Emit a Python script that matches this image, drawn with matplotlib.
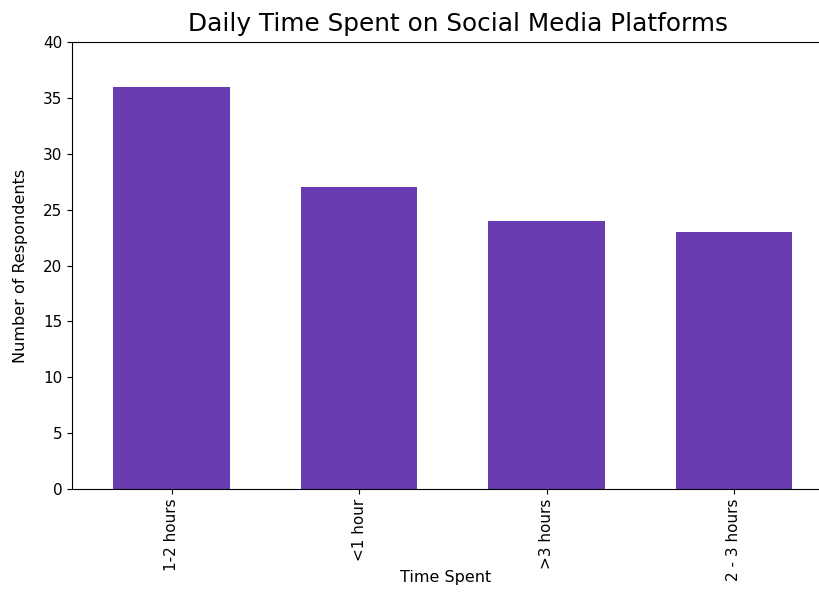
import matplotlib
matplotlib.use('Agg')
import matplotlib.pyplot as plt

categories = ['1-2 hours', '<1 hour', '>3 hours', '2 - 3 hours']
respondents = [36, 27, 24, 23]

fig = plt.figure(figsize=(8.2, 5.92), dpi=100)
ax = fig.add_axes([0.088, 0.174, 0.91, 0.755])

ax.bar(range(len(categories)), respondents, width=0.62, color='#683bb0')

ax.set_xticks(range(len(categories)))
ax.set_xticklabels(categories, rotation=90, fontsize=11)
ax.set_xlim(-0.53, 3.45)
ax.set_ylim(0, 40)
ax.tick_params(axis='y', labelsize=11)

ax.spines['right'].set_visible(False)

ax.set_title('Daily Time Spent on Social Media Platforms', fontsize=17.8, pad=8, x=0.517)
ax.set_xlabel('Time Spent', fontsize=11.5)
ax.xaxis.set_label_coords(0.5, -0.181)
ax.set_ylabel('Number of Respondents', fontsize=11.5, labelpad=11)

fig.savefig('out.png')
